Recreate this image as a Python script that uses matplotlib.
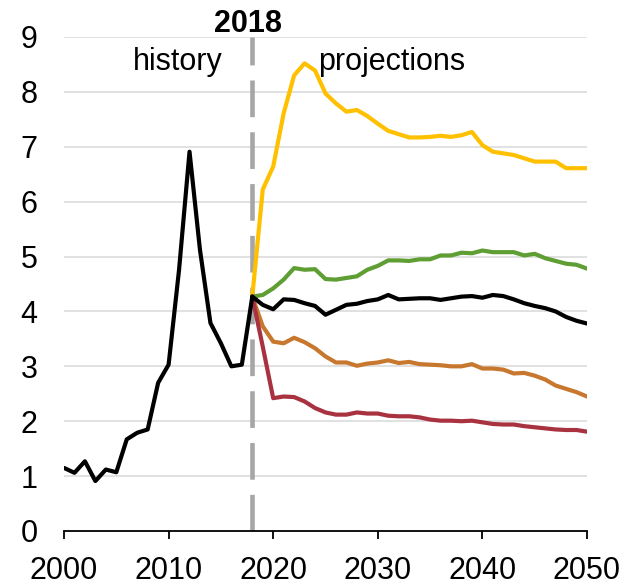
import matplotlib
matplotlib.use("Agg")
import matplotlib.pyplot as plt

plt.rcParams['font.family'] = ['Liberation Sans', 'DejaVu Sans']

hist_years = list(range(2000, 2019))
hist_values = [1.15, 1.06, 1.27, 0.91, 1.12, 1.07, 1.67, 1.79, 1.85, 2.70,
               3.03, 4.76, 6.91, 5.12, 3.79, 3.42, 3.00, 3.03, 4.27]

proj_years = list(range(2018, 2051))
proj_high = [4.27, 6.22, 6.64, 7.61, 8.30, 8.52, 8.39, 7.97, 7.79, 7.64,
             7.67, 7.56, 7.42, 7.29, 7.23, 7.17, 7.17, 7.18, 7.20, 7.18,
             7.21, 7.27, 7.03, 6.91, 6.88, 6.85, 6.79, 6.73, 6.73, 6.73,
             6.61, 6.61, 6.61]
proj_midhigh = [4.27, 4.30, 4.42, 4.58, 4.79, 4.76, 4.77, 4.59, 4.58, 4.61,
                4.64, 4.76, 4.83, 4.93, 4.93, 4.92, 4.95, 4.95, 5.02, 5.02,
                5.07, 5.06, 5.11, 5.08, 5.08, 5.08, 5.02, 5.05, 4.97, 4.92,
                4.87, 4.85, 4.78]
proj_ref = [4.27, 4.12, 4.04, 4.22, 4.21, 4.15, 4.10, 3.94, 4.03, 4.12,
            4.14, 4.19, 4.22, 4.30, 4.22, 4.23, 4.24, 4.24, 4.21, 4.24,
            4.27, 4.28, 4.25, 4.30, 4.28, 4.22, 4.15, 4.10, 4.06, 4.00,
            3.90, 3.83, 3.78]
proj_midlow = [4.27, 3.73, 3.45, 3.42, 3.52, 3.44, 3.33, 3.18, 3.07, 3.07,
               3.01, 3.05, 3.07, 3.11, 3.06, 3.08, 3.04, 3.03, 3.02, 3.00,
               3.00, 3.04, 2.96, 2.96, 2.94, 2.87, 2.88, 2.83, 2.76, 2.65,
               2.59, 2.53, 2.45]
proj_low = [4.27, 3.36, 2.42, 2.45, 2.44, 2.36, 2.24, 2.16, 2.12, 2.12,
            2.16, 2.14, 2.14, 2.10, 2.09, 2.09, 2.07, 2.03, 2.01, 2.01,
            2.00, 2.01, 1.98, 1.95, 1.94, 1.94, 1.91, 1.89, 1.87, 1.85,
            1.84, 1.84, 1.81]

x_ticks = [2000, 2010, 2020, 2030, 2040, 2050]
y_ticks = list(range(0, 10))
split_year = 2018

fig = plt.figure(figsize=(6.3, 5.85), dpi=100)
ax = fig.add_axes([64/630, 1 - 531/585, (587-64)/630, (531-37)/585])
ax.set_xlim(2000, 2050)
ax.set_ylim(0, 9)

for y in y_ticks[1:]:
    ax.axhline(y, color='#D9D9D9', lw=1.1, zorder=0)

dline, = ax.plot([split_year, split_year], [0, 9], color='#A6A6A6', lw=3.3,
                 zorder=1, clip_on=False, solid_capstyle='butt')
dline.set_dashes((8, 3.3))
dline.set_dash_capstyle('butt')

lw = 3.0
kw = dict(lw=lw, solid_joinstyle='round', solid_capstyle='round', zorder=3)
ax.plot(proj_years, proj_high, color='#FFC000', **kw)
ax.plot(proj_years, proj_midhigh, color='#5E9E33', **kw)
ax.plot(proj_years, proj_midlow, color='#C8782E', **kw)
ax.plot(proj_years, proj_low, color='#A8323F', **kw)
ax.plot(proj_years, proj_ref, color='black', **kw)
ax.plot(hist_years, hist_values, color='black', **kw)

for s in ['left', 'right', 'top']:
    ax.spines[s].set_visible(False)
ax.spines['bottom'].set_linewidth(1.3)
ax.spines['bottom'].set_color('black')

ax.set_xticks(x_ticks)
ax.set_yticks(y_ticks)
ax.tick_params(axis='x', direction='out', length=6, width=1.3, labelsize=22, pad=12)
ax.tick_params(axis='y', length=0, labelsize=22, pad=19)

ax.text(2010.9, 8.40, 'history', ha='center', va='baseline', fontsize=22)
ax.text(2031.3, 8.40, 'projections', ha='center', va='baseline', fontsize=22)
ax.text(2017.6, 9.095, '2018', ha='center', va='baseline', fontsize=22,
        fontweight='bold', clip_on=False)

fig.savefig('out.png', dpi=100)
